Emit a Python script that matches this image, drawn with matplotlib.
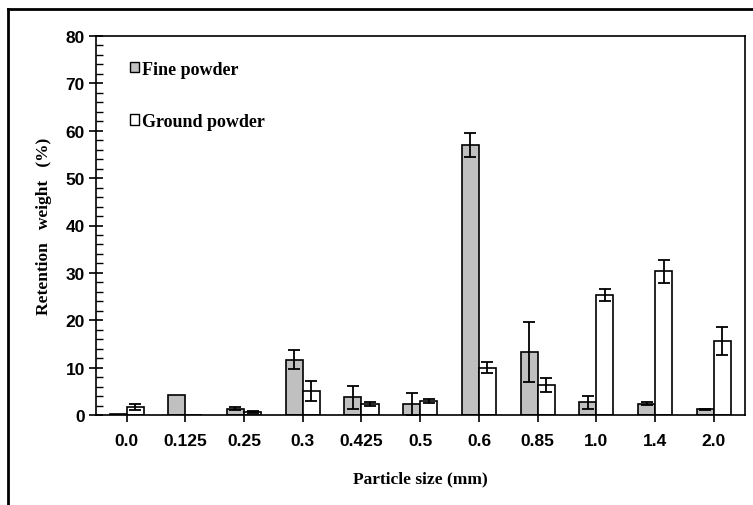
import matplotlib
matplotlib.use("Agg")
import matplotlib.pyplot as plt
import numpy as np
from matplotlib.lines import Line2D
from matplotlib.patches import Patch
from matplotlib.ticker import MultipleLocator

categories = ["0.0", "0.125", "0.25", "0.3", "0.425", "0.5", "0.6", "0.85", "1.0", "1.4", "2.0"]
fine = [0.3, 4.3, 1.3, 11.7, 3.7, 2.3, 57.0, 13.3, 2.7, 2.4, 1.2]
fine_err = [0.0, 0.0, 0.3, 2.0, 2.4, 2.3, 2.6, 6.4, 1.4, 0.3, 0.1]
ground = [1.7, 0.0, 0.7, 5.0, 2.3, 2.9, 10.0, 6.3, 25.3, 30.3, 15.6]
ground_err = [0.6, 0.0, 0.2, 2.1, 0.5, 0.4, 1.1, 1.5, 1.3, 2.5, 3.0]

fig = plt.figure(figsize=(7.53, 5.06), dpi=100)
ax = fig.add_axes([96/753, 1-416/506, (745-96)/753, (416-37)/506])

x = np.arange(len(categories))
w = 0.29
ax.bar(x - w/2, fine, width=w, color="#c0c0c0", edgecolor="black", linewidth=1.2, zorder=2)
ax.bar(x + w/2, ground, width=w, color="white", edgecolor="black", linewidth=1.2, zorder=2)

fe = np.array(fine_err); ge = np.array(ground_err)
mf = fe > 0; mg = ge > 0
ax.errorbar((x - w/2)[mf], np.array(fine)[mf], yerr=fe[mf], fmt="none", ecolor="black",
            elinewidth=1.3, capsize=4, capthick=1.3, zorder=3)
ax.errorbar((x + w/2)[mg], np.array(ground)[mg], yerr=ge[mg], fmt="none", ecolor="black",
            elinewidth=1.3, capsize=4, capthick=1.3, zorder=3)

ax.set_xlim(-0.52, len(categories) - 0.47)
ax.set_ylim(0, 80)
ax.set_xticks(x)
ax.set_xticklabels(categories)
ax.yaxis.set_major_locator(MultipleLocator(10))
ax.yaxis.set_minor_locator(MultipleLocator(2))
ax.tick_params(axis="y", which="major", direction="inout", length=10, width=1.2)
ax.tick_params(axis="y", which="minor", direction="in", length=5, width=1.0)
ax.tick_params(axis="x", which="major", direction="out", length=5, width=1.2, pad=8)
for lab in ax.get_xticklabels() + ax.get_yticklabels():
    lab.set_fontfamily("Liberation Sans")
    lab.set_fontweight("bold")
    lab.set_fontsize(12.5)
ax.tick_params(axis="y", pad=3)
for s in ax.spines.values():
    s.set_linewidth(1.2)

ax.set_xlabel("Particle size (mm)", fontfamily="Liberation Serif", fontweight="bold", fontsize=12.5, labelpad=16)
ax.set_ylabel("Retention   weight   (%)", fontfamily="Liberation Serif", fontweight="bold", fontsize=12.5, labelpad=10)

handles = [Patch(facecolor="#c0c0c0", edgecolor="black", linewidth=1.0),
           Patch(facecolor="white", edgecolor="black", linewidth=1.0)]
ax.legend(handles, ["Fine powder", "Ground powder"], loc="upper left",
          bbox_to_anchor=(0.052, 0.935), frameon=False, borderpad=0, borderaxespad=0,
          handlelength=0.5, handleheight=0.5,
          handletextpad=0.2, labelspacing=1.95,
          prop={"family": "Liberation Serif", "weight": "bold", "size": 13})

# outer frame (left and top edges visible)
fig.add_artist(Line2D([8/753, 8/753], [0, 1-10/506], transform=fig.transFigure, color="black", linewidth=2))
fig.add_artist(Line2D([8/753, 1], [1-10/506, 1-10/506], transform=fig.transFigure, color="black", linewidth=2))

fig.savefig("out.png", dpi=100)
